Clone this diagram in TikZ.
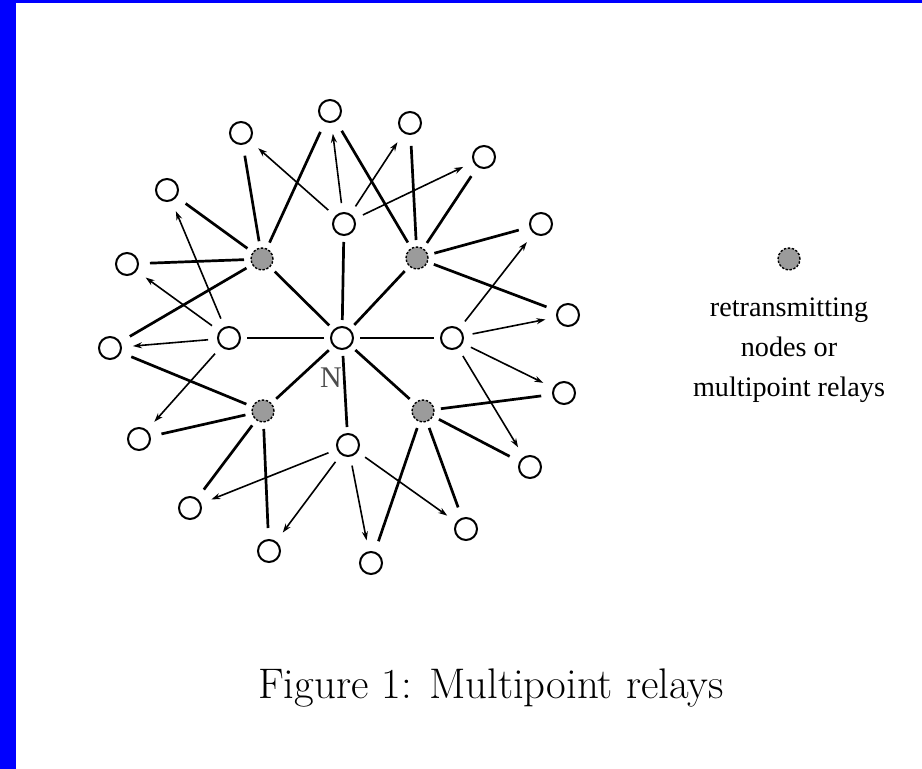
\documentclass[tikz,border=0pt]{standalone}
\usepackage{fontspec}
\newfontfamily\timesf{Liberation Serif}
\usetikzlibrary{arrows.meta}
\definecolor{relaygray}{RGB}{155,155,155}
\definecolor{bord}{RGB}{0,0,255}
\tikzset{
  wn/.style={circle,draw=black,line width=1pt,fill=white,minimum size=11pt,inner sep=0pt,outer sep=3.5pt},
  gn/.style={circle,draw=black,dashed,dash pattern=on 1.2pt off 0.8pt,line width=0.7pt,fill=relaygray,minimum size=11pt,inner sep=0pt,outer sep=3.5pt},
  edge/.style={line width=1.35pt,black},
  far/.style={shorten >=2.5pt},
  arr/.style={line width=0.8pt,black,-{Stealth[length=4.5pt,width=3pt]},shorten >=2.5pt,shorten <=1.5pt}
}
\begin{document}
\begin{tikzpicture}[x=0.5pt,y=-0.5pt]
\useasboundingbox (0,0) rectangle (922,769);
\fill[white] (0,0) rectangle (922,769);
\fill[bord] (0,0) rectangle (16,769);
\fill[bord] (0,0) rectangle (922,3);
% nodes
\node[wn] (N) at (342,338) {};
\node[wn] (T) at (344,224) {};
\node[wn] (L) at (229,338) {};
\node[wn] (R) at (452,338) {};
\node[wn] (B) at (348,445) {};
\node[gn] (GUL) at (262,259) {};
\node[gn] (GUR) at (417,258) {};
\node[gn] (GLL) at (263,411) {};
\node[gn] (GLR) at (423,411) {};
\node[wn] (o1) at (241,133) {};
\node[wn] (o2) at (330,111) {};
\node[wn] (o3) at (410,123) {};
\node[wn] (o4) at (484,157) {};
\node[wn] (o5) at (541,224) {};
\node[wn] (o6) at (568,315) {};
\node[wn] (o7) at (564,393) {};
\node[wn] (o8) at (530,467) {};
\node[wn] (o9) at (466,529) {};
\node[wn] (o10) at (371,563) {};
\node[wn] (o11) at (269,551) {};
\node[wn] (o12) at (190,508) {};
\node[wn] (o13) at (139,439) {};
\node[wn] (o14) at (110,348) {};
\node[wn] (o15) at (127,264) {};
\node[wn] (o16) at (167,190) {};
\node[font=\timesf\fontsize{15}{15}\selectfont,text=black!70] (Nlab) at (331,378) {N};
% edges from N
\foreach \t in {T,L,R,B,GUL,GUR,GLL,GLR} \draw[edge] (N) -- (\t);
% relay edges
\foreach \t in {o1,o2,o14,o15,o16} \draw[edge,far] (GUL) -- (\t);
\foreach \t in {o2,o3,o4,o5,o6} \draw[edge,far] (GUR) -- (\t);
\foreach \t in {o7,o8,o9,o10} \draw[edge,far] (GLR) -- (\t);
\foreach \t in {o11,o12,o13,o14} \draw[edge,far] (GLL) -- (\t);
% arrows from one-hop neighbours
\foreach \t in {o1,o2,o3,o4} \draw[arr] (T) -- (\t);
\foreach \t in {o13,o14,o15,o16} \draw[arr] (L) -- (\t);
\foreach \t in {o5,o6,o7,o8} \draw[arr] (R) -- (\t);
\foreach \t in {o9,o10,o11,o12} \draw[arr] (B) -- (\t);
% legend
\node[gn] (leg) at (789,259) {};
\node[align=center,font=\timesf\fontsize{14.1}{20}\selectfont,inner sep=0pt] (legtxt) at (789,350) {retransmitting\\nodes or\\multipoint relays};
% caption
\node[font=\fontsize{21.4}{26}\selectfont,inner sep=0pt] (cap) at (491,688) {Figure 1: Multipoint relays};
\end{tikzpicture}
\end{document}
